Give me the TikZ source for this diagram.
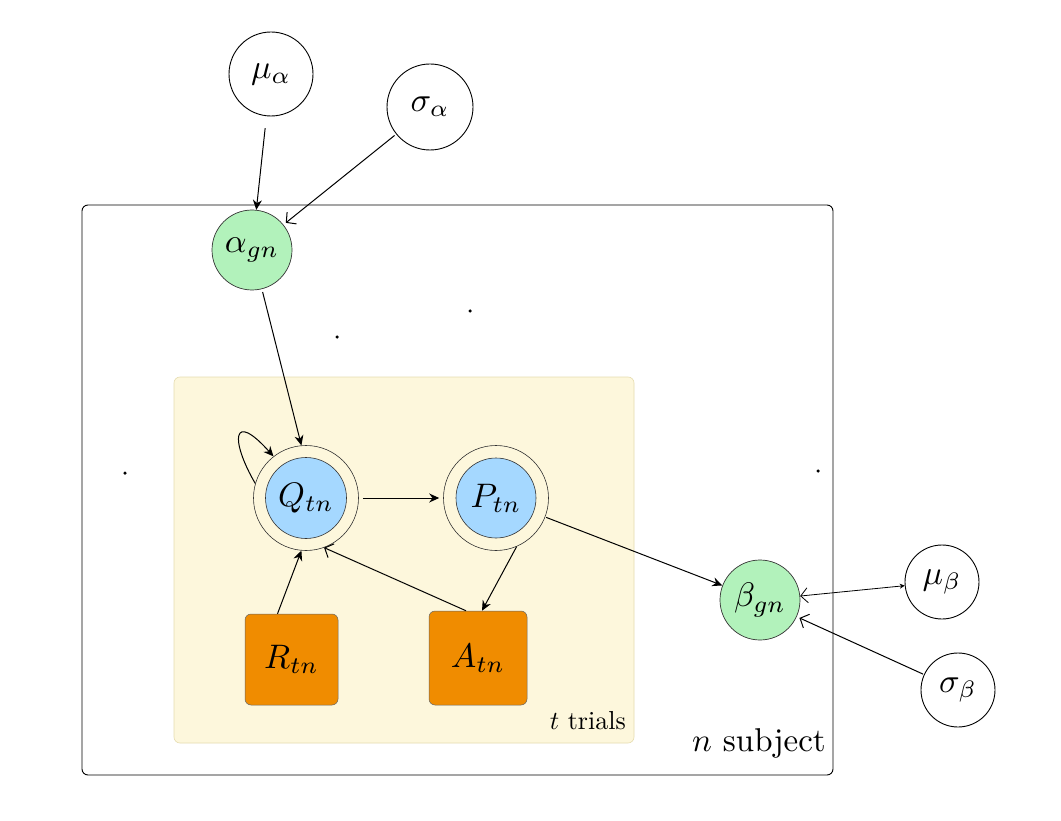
\documentclass[tikz,border=0pt]{standalone}
\usepackage{graphicx}
\usetikzlibrary{arrows.meta}
\definecolor{greenfill}{HTML}{B2F2BB}
\definecolor{bluefill}{HTML}{A5D8FF}
\definecolor{orangefill}{HTML}{F08C00}
\definecolor{platefill}{HTML}{FDF7DC}
\definecolor{platedraw}{HTML}{E6DDB0}
\newcommand{\biglab}[1]{\scalebox{3.4}{#1}}
\begin{document}
\begin{tikzpicture}[x=1pt,y=-1pt,
  hyper/.style={circle,draw=black,line width=0.9pt,fill=white,inner sep=0pt},
  gnode/.style={circle,draw=black!80,line width=0.7pt,fill=greenfill,minimum size=80pt,inner sep=0pt},
  ring/.style={circle,draw=black!80,line width=0.6pt,fill=platefill,minimum size=105pt,inner sep=0pt},
  bluec/.style={circle,draw=black!80,line width=0.6pt,fill=bluefill,minimum size=81pt,inner sep=0pt},
  obs/.style={rectangle,rounded corners=6pt,draw=black!60,line width=0.5pt,fill=orangefill,inner sep=0pt},
  arr/.style={line width=1pt,-{Stealth[length=10pt,width=9pt]}},
  oarr/.style={line width=1pt,-{Straight Barb[length=7pt,width=15pt]}},
  dot/.style={circle,fill=black,inner sep=0pt,minimum size=3.5pt}
]
\useasboundingbox (0,0) rectangle (1061,821);
\fill[white] (0,0) rectangle (1061,821);

% plates
\node[draw=black,line width=0.9pt,rounded corners=6pt,minimum width=751pt,minimum height=570pt,inner sep=0pt] (outer) at (457.5,490) {};
\node[draw=platedraw,fill=platefill,line width=0.6pt,rounded corners=6pt,minimum width=460pt,minimum height=366pt,inner sep=0pt] (inner) at (404,560) {};
\node[anchor=south east,inner sep=0pt] (tlab) at (626,730) {\scalebox{2.6}{$t$ trials}};
\node[anchor=south east,inner sep=0pt] (nlab) at (826,758) {\scalebox{3.3}{$n$ subject}};

% dots
\node[dot] (d1) at (337,337) {};
\node[dot] (d2) at (470,311) {};
\node[dot] (d3) at (125,473) {};
\node[dot] (d4) at (818,471) {};

% hyperpriors
\node[hyper,minimum size=84pt] (mua) at (271,74) {\biglab{$\mu_\alpha$}};
\node[hyper,minimum size=86pt] (siga) at (430,107) {\biglab{$\sigma_\alpha$}};
\node[hyper,minimum size=74pt] (mub) at (942,582) {\biglab{$\mu_\beta$}};
\node[hyper,minimum size=74pt] (sigb) at (958,690) {\biglab{$\sigma_\beta$}};

% subject-level
\node[gnode] (agn) at (252,250) {\biglab{$\alpha_{gn}$}};
\node[gnode] (beta) at (760,600) {\biglab{$\beta_{gn}$}};

% trial-level
\node[ring] (Q) at (306,498) {};
\node[bluec] (Qin) at (306,498) {\biglab{$Q_{tn}$}};
\node[ring] (P) at (496,498) {};
\node[bluec,minimum size=80pt] (Pin) at (496,498) {\biglab{$P_{tn}$}};
\node[obs,minimum width=93pt,minimum height=91pt] (R) at (291.5,659.5) {\biglab{$R_{tn}$}};
\node[obs,minimum width=98pt,minimum height=94pt] (A) at (478,658) {\biglab{$A_{tn}$}};

% edges
\draw[arr,shorten <=12pt] (mua) -- (agn);
\draw[oarr,shorten <=2pt,shorten >=3pt] (siga) -- (agn);
\draw[arr,shorten <=3pt] (agn) -- (Q.95);
\draw[arr] (Q.164) .. controls (230,440) and (232,410) .. (Q.128);
\draw[arr,shorten <=4pt,shorten >=4pt] (Q) -- (P);
\draw[arr] ([xshift=-14pt]R.north) -- (Q.265);
\draw[oarr] ([xshift=-12pt]A.north) -- (Q.290);
\draw[arr] (P.293) -- ([xshift=4pt]A.north);
\draw[arr,shorten <=1pt] (P) -- (beta);
\draw[line width=0.8pt,{Straight Barb[length=7pt,width=15pt]}-{Stealth[length=5pt,width=5pt]}] (beta) -- (mub);
\draw[oarr,shorten <=1pt,shorten >=3pt] (sigb) -- (beta);
\end{tikzpicture}
\end{document}
